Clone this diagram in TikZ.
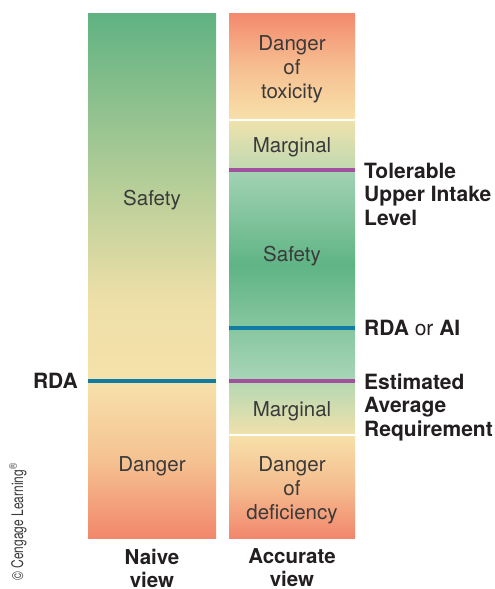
\documentclass[tikz,border=0pt]{standalone}
\usepackage{fontspec}
\setmainfont{TeX Gyre Heros}
\usepackage{graphicx}
\definecolor{gA}{HTML}{60B282}
\definecolor{gB}{HTML}{BDD09A}
\definecolor{yA}{HTML}{EEDFA8}
\definecolor{yB}{HTML}{F6E1AA}
\definecolor{oA}{HTML}{F5C291}
\definecolor{rA}{HTML}{F2876C}
\definecolor{tox1}{HTML}{F4896D}
\definecolor{tox2}{HTML}{F6BE90}
\definecolor{tox3}{HTML}{F7E1AA}
\definecolor{mg1}{HTML}{EFE2AC}
\definecolor{mg2}{HTML}{BFD9B1}
\definecolor{sf1}{HTML}{A3D3B4}
\definecolor{sf2}{HTML}{5FB485}
\definecolor{sf3}{HTML}{A9D6B8}
\definecolor{mg3}{HTML}{B5D8B3}
\definecolor{mg4}{HTML}{F0E1AB}
\definecolor{df1}{HTML}{F7E0A9}
\definecolor{df2}{HTML}{F5BC8E}
\definecolor{df3}{HTML}{F2876D}
\definecolor{rdablue}{HTML}{0E7CA3}
\definecolor{earpurple}{HTML}{A2519E}
\definecolor{coltext}{HTML}{3A3A3A}
\definecolor{labtext}{HTML}{231F20}
\tikzset{
  coltxt/.style={text=coltext, align=center, inner sep=0pt, font=\fontsize{20.5}{24}\selectfont},
  labtxt/.style={text=labtext, align=left, inner sep=0pt, font=\fontsize{21}{23.5}\selectfont\bfseries},
  captxt/.style={text=labtext, align=center, inner sep=0pt, font=\fontsize{20.5}{23}\selectfont\bfseries},
  marker/.style={line width=4pt},
  divider/.style={white, line width=2pt},
}
\begin{document}
\begin{tikzpicture}[x=1pt,y=1pt]
\useasboundingbox[fill=white] (0,0) rectangle (495,-589);
% Naive column
\shade[top color=gA, bottom color=gB] (88,-13) rectangle (216,-200.5);
\shade[top color=gB, bottom color=yA] (88,-200) rectangle (216,-300.5);
\shade[top color=yA, bottom color=yB] (88,-300) rectangle (216,-381.5);
\shade[top color=yB, bottom color=oA] (88,-381) rectangle (216,-460.5);
\shade[top color=oA, bottom color=rA] (88,-460) rectangle (216,-538);
\draw[marker, rdablue] (88,-381) -- (216,-381);
% Accurate column
\shade[top color=tox1, bottom color=tox2] (229,-13) rectangle (355,-66.5);
\shade[top color=tox2, bottom color=tox3] (229,-66) rectangle (355,-120);
\shade[top color=mg1, bottom color=mg2] (229,-120) rectangle (355,-170.5);
\shade[top color=sf1, bottom color=sf2] (229,-170) rectangle (355,-265.5);
\shade[top color=sf2, bottom color=sf3] (229,-265) rectangle (355,-381.5);
\shade[top color=mg3, bottom color=mg4] (229,-381) rectangle (355,-435);
\shade[top color=df1, bottom color=df2] (229,-435) rectangle (355,-487.5);
\shade[top color=df2, bottom color=df3] (229,-487) rectangle (355,-538);
\draw[divider] (229,-120) -- (355,-120);
\draw[divider] (229,-435) -- (355,-435);
\draw[marker, earpurple] (229,-170) -- (355,-170);
\draw[marker, rdablue] (229,-327.5) -- (355,-327.5);
\draw[marker, earpurple] (229,-381) -- (355,-381);
% Column texts
\node[coltxt] (nsafe) at (152,-200) {Safety};
\node[coltxt] (ndanger) at (152,-466) {Danger};
\node[coltxt] (atox) at (292,-69.5) {Danger\\of\\toxicity};
\node[coltxt] (amarg1) at (292,-147) {Marginal};
\node[coltxt] (asafe) at (292,-256) {Safety};
\node[coltxt] (amarg2) at (292,-411) {Marginal};
\node[coltxt] (adef) at (292,-490) {Danger\\of\\deficiency};
% Side labels
\node[labtxt, anchor=east] (rda) at (78,-381) {RDA};
\node[labtxt, anchor=west] (ul) at (364,-194) {Tolerable\\Upper Intake\\Level};
\node[labtxt, anchor=west] (rdaai) at (364,-328) {RDA {\mdseries or} AI};
\node[labtxt, anchor=west] (ear) at (364,-407) {Estimated\\Average\\Requirement};
% Captions
\node[captxt] (naive) at (152,-568) {Naive\\view};
\node[captxt] (accurate) at (292,-568) {Accurate\\view};
% Copyright
\node[rotate=90, inner sep=0pt, text=coltext] (copy) at (18,-522) {\fontsize{16}{16}\selectfont\scalebox{0.75}[1]{© Cengage Learning\textsuperscript{®}}};
\end{tikzpicture}
\end{document}
